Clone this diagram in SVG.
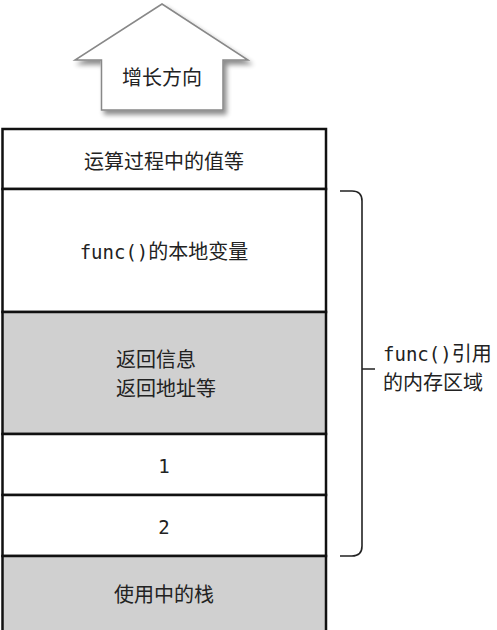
<svg xmlns="http://www.w3.org/2000/svg" width="497" height="630" viewBox="0 0 497 630">
<defs>
<filter id="sh" x="-20%" y="-20%" width="150%" height="150%">
<feGaussianBlur in="SourceAlpha" stdDeviation="2.5"/>
<feOffset dx="3" dy="4" result="b"/>
<feComponentTransfer><feFuncA type="linear" slope="0.45"/></feComponentTransfer>
<feMerge><feMergeNode/><feMergeNode in="SourceGraphic"/></feMerge>
</filter>
</defs>
<style>
.t{font-family:"Noto Sans CJK SC","Liberation Sans",sans-serif;font-size:20px;fill:#222}
.m{font-family:"DejaVu Sans Mono","Noto Sans CJK SC",monospace;font-size:19px}
.c{text-anchor:middle}
.w{fill:#fff;stroke:#111;stroke-width:2.5}
.g{fill:#d0d0d0;stroke:#111;stroke-width:2.5}
.ln{fill:none;stroke:#222;stroke-width:1.6}
</style>
<rect width="497" height="630" fill="#fff"/>
<g id="arrow">
<path d="M162,4 L248,60 L223,60 L223,110 L101.5,110 L101.5,60 L75,60 Z" fill="#fff" stroke="#888" stroke-width="1.5" filter="url(#sh)"/>
<text class="t c" x="162" y="85">增长方向</text>
</g>
<g id="row-ops">
<rect class="w" x="2.5" y="129" width="323.5" height="60"/>
<text class="t c" x="164" y="169">运算过程中的值等</text>
</g>
<g id="row-locals">
<rect class="w" x="2.5" y="189" width="323.5" height="123"/>
<text class="t c" x="164" y="259"><tspan class="m">func()</tspan>的本地变量</text>
</g>
<g id="row-return">
<rect class="g" x="2.5" y="312" width="323.5" height="122"/>
<text class="t" x="116" y="367">返回信息</text>
<text class="t" x="116" y="396">返回地址等</text>
</g>
<g id="row-1">
<rect class="w" x="2.5" y="434" width="323.5" height="61"/>
<text class="t m c" x="164" y="473">1</text>
</g>
<g id="row-2">
<rect class="w" x="2.5" y="495" width="323.5" height="61"/>
<text class="t m c" x="164" y="534">2</text>
</g>
<g id="row-used">
<rect class="g" x="2.5" y="556" width="323.5" height="80"/>
<text class="t c" x="164" y="602">使用中的栈</text>
</g>
<g id="connectors">
<path class="ln" d="M340,191 L352,191 Q362,191 362,201 L362,546 Q362,556 352,556 L340,556 M362,369 L375,369"/>
</g>
<g id="brace-label">
<text class="t" x="383" y="361"><tspan class="m">func()</tspan>引用</text>
<text class="t" x="383" y="390">的内存区域</text>
</g>
</svg>
